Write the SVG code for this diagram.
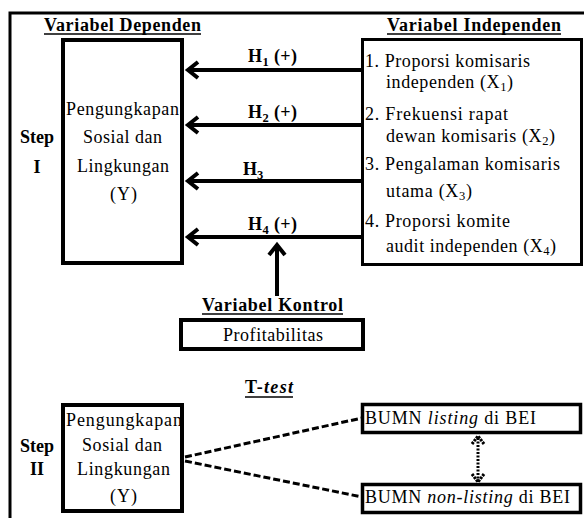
<svg xmlns="http://www.w3.org/2000/svg" width="584" height="518" viewBox="0 0 584 518">
<style>
text{font-family:"Liberation Serif","Times New Roman",serif;fill:#000;font-size:18px}
.b{font-weight:bold}
.c{text-anchor:middle}
.sub{font-size:12.5px}
.box{fill:#fff;stroke:#000;stroke-width:4}
.ln{stroke:#000;stroke-width:4;fill:none}
.ah{stroke:#000;stroke-width:4;fill:none;stroke-linejoin:miter}
.ul{stroke:#000;stroke-width:1.5}
.dash{stroke:#000;stroke-width:3;stroke-dasharray:7 3;fill:none}
</style>
<g id="frame"><path d="M10 520 V13 H590" fill="none" stroke="#000" stroke-width="3"/></g>
<g id="headings">
<text class="b" x="44" y="31" textLength="157" lengthAdjust="spacing">Variabel Dependen</text>
<line class="ul" x1="44" y1="34" x2="201" y2="34"/>
<text class="b" x="387" y="31" textLength="174" lengthAdjust="spacing">Variabel Independen</text>
<line class="ul" x1="387" y1="34" x2="561" y2="34"/>
</g>
<g id="step1-label">
<text class="b c" x="37" y="143">Step</text>
<text class="b c" x="37" y="173">I</text>
</g>
<g id="dependen1">
<rect class="box" x="63" y="40" width="119" height="223"/>
<text x="66" y="115" textLength="113" lengthAdjust="spacing">Pengungkapan</text>
<text x="83" y="143" textLength="79" lengthAdjust="spacing">Sosial dan</text>
<text x="77" y="172" textLength="92" lengthAdjust="spacing">Lingkungan</text>
<text x="110" y="200" textLength="27" lengthAdjust="spacing">(Y)</text>
</g>
<g id="independen">
<rect x="362.5" y="39.5" width="219" height="225" fill="#fff" stroke="#000" stroke-width="3"/>
<text x="365" y="67" textLength="165" lengthAdjust="spacing">1. Proporsi komisaris</text>
<text x="386" y="88" textLength="127" lengthAdjust="spacing">independen (X<tspan class="sub" dy="3">1</tspan><tspan dy="-3">)</tspan></text>
<text x="365" y="120" textLength="143" lengthAdjust="spacing">2. Frekuensi rapat</text>
<text x="386" y="142" textLength="169" lengthAdjust="spacing">dewan komisaris (X<tspan class="sub" dy="3">2</tspan><tspan dy="-3">)</tspan></text>
<text x="365" y="170" textLength="195" lengthAdjust="spacing">3. Pengalaman komisaris</text>
<text x="386" y="197" textLength="86" lengthAdjust="spacing">utama (X<tspan class="sub" dy="3">3</tspan><tspan dy="-3">)</tspan></text>
<text x="365" y="227" textLength="145" lengthAdjust="spacing">4. Proporsi komite</text>
<text x="386" y="252" textLength="170" lengthAdjust="spacing">audit independen (X<tspan class="sub" dy="3">4</tspan><tspan dy="-3">)</tspan></text>
</g>
<g id="kontrol">
<text class="b" x="202" y="311" textLength="141" lengthAdjust="spacing">Variabel Kontrol</text>
<line class="ul" x1="202" y1="314" x2="343" y2="314"/>
<rect class="box" x="181" y="320" width="182" height="29"/>
<text x="223" y="341" textLength="100" lengthAdjust="spacing">Profitabilitas</text>
</g>
<g id="ttest-label">
<text class="b" x="245" y="393" textLength="48" lengthAdjust="spacing">T-<tspan font-style="italic">test</tspan></text>
<line class="ul" x1="245" y1="397" x2="293" y2="397"/>
</g>
<g id="step2-label">
<text class="b c" x="37" y="452">Step</text>
<text class="b c" x="37" y="475">II</text>
</g>
<g id="dependen2">
<rect class="box" x="63" y="405" width="119" height="106"/>
<text x="66" y="426" textLength="116" lengthAdjust="spacing">Pengungkapan</text>
<text x="82" y="451" textLength="80" lengthAdjust="spacing">Sosial dan</text>
<text x="77" y="475" textLength="93" lengthAdjust="spacing">Lingkungan</text>
<text x="110" y="502" textLength="27" lengthAdjust="spacing">(Y)</text>
</g>
<g id="bumn-listing">
<rect x="362.5" y="404.5" width="218" height="28" fill="#fff" stroke="#000" stroke-width="3.5"/>
<text x="365" y="424" textLength="171" lengthAdjust="spacing">BUMN <tspan font-style="italic">listing</tspan>  di BEI</text>
</g>
<g id="bumn-nonlisting">
<rect x="362.5" y="484.5" width="218" height="28" fill="#fff" stroke="#000" stroke-width="3.5"/>
<text x="365" y="503" textLength="205" lengthAdjust="spacing">BUMN <tspan font-style="italic">non-listing</tspan>  di BEI</text>
</g>
<g id="connectors">
<line class="ln" x1="362" y1="70" x2="189" y2="70"/>
<polyline class="ah" points="198,62 188,70 198,78"/>
<line class="ln" x1="362" y1="125" x2="189" y2="125"/>
<polyline class="ah" points="198,117 188,125 198,133"/>
<line class="ln" x1="362" y1="181" x2="189" y2="181"/>
<polyline class="ah" points="198,173 188,181 198,189"/>
<line class="ln" x1="362" y1="237" x2="189" y2="237"/>
<polyline class="ah" points="198,229 188,237 198,245"/>
<line class="ln" x1="277" y1="296" x2="277" y2="246"/>
<polyline class="ah" points="269,255 277,245 285,255"/>
<path class="dash" d="M185 457 L362 418"/>
<path class="dash" d="M185 461 L362 497"/>
<line x1="478" y1="438" x2="478" y2="480" stroke="#000" stroke-width="3" stroke-dasharray="2 1.5"/>
<polyline points="472,444 478,436 484,444" fill="none" stroke="#000" stroke-width="3" stroke-dasharray="2.5 1"/>
<polyline points="472,474 478,482 484,474" fill="none" stroke="#000" stroke-width="3" stroke-dasharray="2.5 1"/>
</g>
<g id="h-labels">
<text class="b" x="248" y="62" textLength="49" lengthAdjust="spacing">H<tspan class="sub" dy="4">1</tspan><tspan dy="-4"> (+)</tspan></text>
<text class="b" x="248" y="118" textLength="49" lengthAdjust="spacing">H<tspan class="sub" dy="4">2</tspan><tspan dy="-4"> (+)</tspan></text>
<text class="b" x="243" y="175">H<tspan class="sub" dy="4">3</tspan></text>
<text class="b" x="248" y="230" textLength="49" lengthAdjust="spacing">H<tspan class="sub" dy="4">4</tspan><tspan dy="-4"> (+)</tspan></text>
</g>
</svg>
